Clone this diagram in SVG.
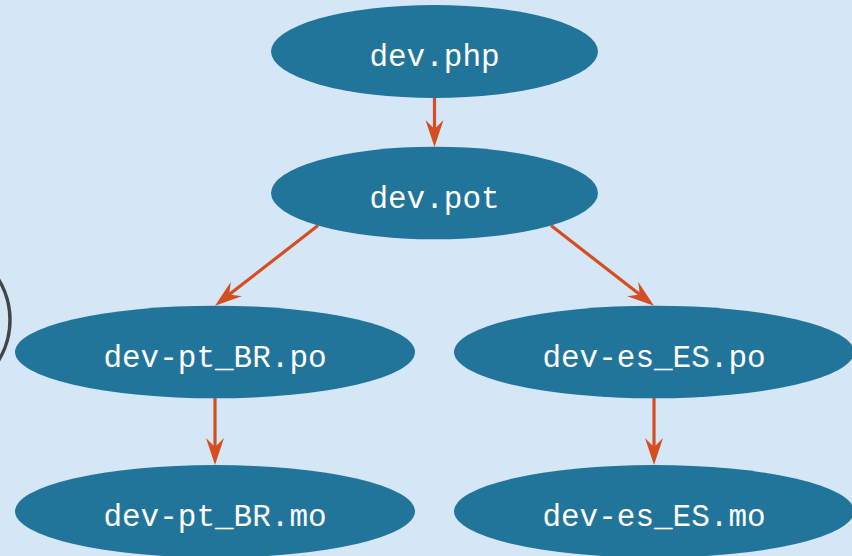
<svg xmlns="http://www.w3.org/2000/svg" width="852" height="556" viewBox="0 0 852 556">
<style>
.node ellipse{fill:#21759b;}
.node text{fill:#ffffff;font-family:"Liberation Mono","DejaVu Sans Mono",monospace;font-size:31px;text-anchor:middle;}
.edge{stroke:#d54e21;stroke-width:3.2;fill:none;marker-end:url(#vee);}
</style>
<defs>
<marker id="vee" markerUnits="userSpaceOnUse" markerWidth="30" markerHeight="20" viewBox="0 -10 30 20" refX="9" refY="0" orient="auto">
<path d="M27,0 L0,-9 L9,0 L0,9 Z" fill="#d54e21"/>
</marker>
</defs>
<rect x="0" y="0" width="852" height="556" fill="#d5e6f6"/>
<circle cx="-67" cy="320" r="77" fill="none" stroke="#444444" stroke-width="3.5"/>
<g id="connectors">
<path class="edge" d="M434.5,98 L434.5,129"/>
<path class="edge" d="M318,225.5 L229.2,294.6"/>
<path class="edge" d="M551,225.5 L639.8,294.6"/>
<path class="edge" d="M215,398 L215,447"/>
<path class="edge" d="M654,398 L654,447"/>
</g>
<g id="dev-php" class="node"><ellipse cx="434.5" cy="51.5" rx="163.5" ry="46.5"/><text x="434.5" y="66">dev.php</text></g>
<g id="dev-pot" class="node"><ellipse cx="434.5" cy="193" rx="163.5" ry="46.3"/><text x="434.5" y="207.5">dev.pot</text></g>
<g id="dev-pt_BR-po" class="node"><ellipse cx="215" cy="352" rx="200" ry="46.3"/><text x="215" y="366.5">dev-pt_BR.po</text></g>
<g id="dev-es_ES-po" class="node"><ellipse cx="654" cy="352" rx="200" ry="46.3"/><text x="654" y="366.5">dev-es_ES.po</text></g>
<g id="dev-pt_BR-mo" class="node"><ellipse cx="215" cy="511.3" rx="200" ry="46.3"/><text x="215" y="525.8">dev-pt_BR.mo</text></g>
<g id="dev-es_ES-mo" class="node"><ellipse cx="654" cy="511.3" rx="200" ry="46.3"/><text x="654" y="525.8">dev-es_ES.mo</text></g>
</svg>
